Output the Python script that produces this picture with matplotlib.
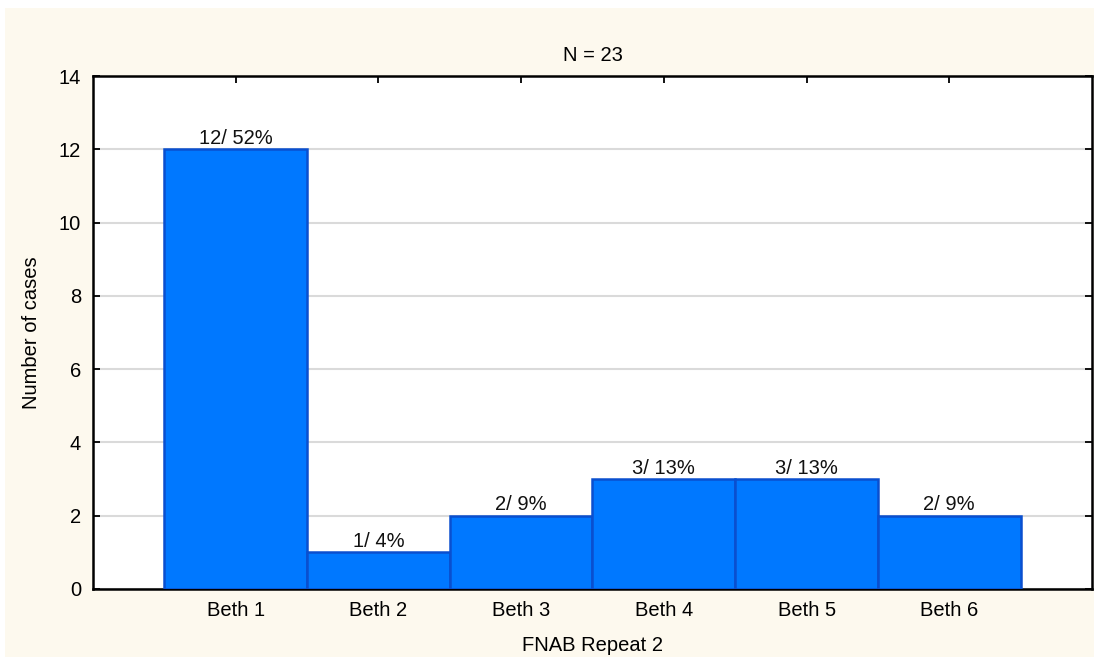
import matplotlib
matplotlib.use("Agg")
import matplotlib.pyplot as plt
from matplotlib.patches import Rectangle

categories = ["Beth 1", "Beth 2", "Beth 3", "Beth 4", "Beth 5", "Beth 6"]
counts = [12, 1, 2, 3, 3, 2]
bar_labels = ["12/ 52%", "1/ 4%", "2/ 9%", "3/ 13%", "3/ 13%", "2/ 9%"]
y_ticks = [0, 2, 4, 6, 8, 10, 12, 14]

CREAM = "#FDF9EE"
BAR = "#0078FF"
EDGE = "#0A4FCF"
FS = 14.5

plt.rcParams["font.family"] = ["Liberation Sans", "DejaVu Sans"]

fig = plt.figure(figsize=(10.94, 6.57), dpi=100)
fig.patch.set_facecolor("white")
# cream panel behind the plot (thin white strip on left and top)
fig.patches.append(Rectangle((5 / 1094, 0.0), 1.0, 1 - 8 / 657,
                             transform=fig.transFigure, facecolor=CREAM,
                             edgecolor="none", zorder=-10))

ax = fig.add_axes([93 / 1094, 1 - 589 / 657, (1092 - 93) / 1094, (589 - 76) / 657])
ax.set_facecolor("white")

x = list(range(len(categories)))
bars = ax.bar(x, counts, width=1.0, color=BAR, edgecolor=EDGE, linewidth=1.8, zorder=3)
ax.bar_label(bars, labels=bar_labels, padding=1, fontsize=FS, color="#111111")

ax.set_xlim(-1, len(categories))
ax.set_ylim(0, 14)
ax.set_yticks(y_ticks)
ax.set_xticks(x)
ax.set_xticklabels(categories)
ax.yaxis.grid(True, color="#DADADA", linewidth=1.5, zorder=0)
ax.set_axisbelow(True)

ax.tick_params(direction="in", length=5, width=1.3, top=True, right=True,
               labelsize=FS, colors="black")
ax.tick_params(axis="x", pad=8.5)
ax.tick_params(axis="y", pad=8.5)
for s in ax.spines.values():
    s.set_linewidth(1.8)
    s.set_color("black")

ax.set_title("N = 23", fontsize=FS, pad=11)
ax.set_xlabel("FNAB Repeat 2", fontsize=FS, labelpad=12)
ax.set_ylabel("Number of cases", fontsize=FS)
ax.yaxis.set_label_coords(-0.052, 0.5)

fig.savefig("out.png", dpi=100, facecolor=fig.get_facecolor())
